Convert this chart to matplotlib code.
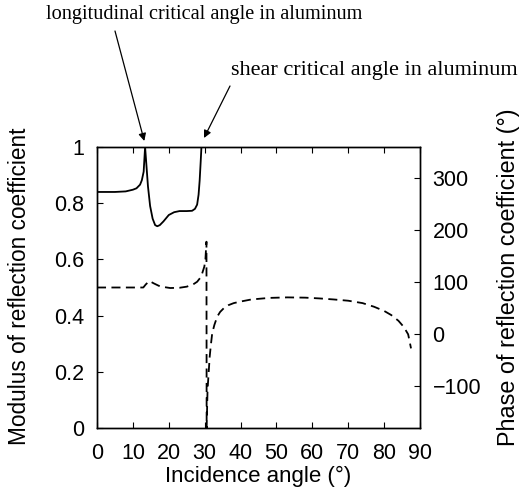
import matplotlib
matplotlib.use("Agg")
import matplotlib.pyplot as plt

# Modulus of reflection coefficient (solid)
theta_mod = [0, 5, 8, 10, 11, 12, 12.5, 13, 13.4, 13.8, 14.2, 14.8, 15.5, 16.2,
             16.8, 17.5, 18.5, 20, 21.5, 23, 25, 26.5, 27.3, 27.9, 28.3, 28.6,
             28.9, 29.1, 30, 40, 90]
modulus = [0.84, 0.84, 0.842, 0.848, 0.853, 0.866, 0.882, 0.912, 1.0, 0.93,
           0.86, 0.79, 0.745, 0.722, 0.718, 0.722, 0.735, 0.758, 0.768, 0.772,
           0.772, 0.773, 0.78, 0.795, 0.83, 0.88, 0.95, 1.0, 1.0, 1.0, 1.0]

# Phase of reflection coefficient in degrees (dashed)
theta_ph = [0, 5, 10, 12.9, 13.6, 14.6, 15.8, 17.6, 20.4, 23, 25, 26.8, 27.9,
            28.7, 29.3, 29.9, 30.2, 30.5, 30.55, 30.8, 31.1, 31.4, 31.7, 32.1,
            32.7, 33.5, 34.3, 35.3, 36.6, 38.1, 40, 43, 48, 53, 58, 62, 66, 70,
            74, 77.2, 80, 82, 84, 85.5, 86.7, 87.5]
phase = [90, 90, 90, 90, 96, 102.5, 98, 92, 89, 89.5, 91.6, 96, 101, 108,
         117, 130, 143, 178, -180, -107, -75, -43, -22, 2, 18, 34, 43, 50, 56,
         60, 63, 67, 70, 71, 70.5, 69, 67, 64.6, 60, 53, 45, 37, 26, 14, 0, -27]

x_ticks = [0, 10, 20, 30, 40, 50, 60, 70, 80, 90]
left_ticks = [0, 0.2, 0.4, 0.6, 0.8, 1]
left_tick_labels = ["0", "0.2", "0.4", "0.6", "0.8", "1"]
right_ticks = [-100, 0, 100, 200, 300]
right_tick_labels = ["\u2212100", "0", "100", "200", "300"]

plt.rcParams['font.family'] = ['Liberation Sans', 'DejaVu Sans']

fig = plt.figure(figsize=(5.2, 4.99), dpi=100)
ax = fig.add_axes([97 / 520, 1 - 428 / 499, (420 - 97) / 520, (428 - 147) / 499])
ax2 = ax.twinx()

ax.plot(theta_mod, modulus, color='black', lw=1.3, solid_joinstyle='round')
ax2.plot(theta_ph, phase, color='black', lw=1.3, dashes=(5, 3))

ax.set_xlim(0, 90)
ax.set_ylim(0, 1)
ax2.set_ylim(-180, 360)

ax.set_xticks(x_ticks)
ax.set_xticklabels([str(t) for t in x_ticks])
ax.set_yticks(left_ticks)
ax.set_yticklabels(left_tick_labels)
ax2.set_yticks(right_ticks)
ax2.set_yticklabels(right_tick_labels)

tfs = 15.5
ax.tick_params(axis='x', direction='in', top=True, length=4, width=0.8,
               labelsize=tfs, pad=11)
ax.tick_params(axis='y', direction='in', left=True, right=False, length=4,
               width=0.8, labelsize=tfs, pad=9)
ax2.tick_params(axis='y', direction='in', right=True, left=False, length=4,
                width=0.8, labelsize=tfs, pad=9)
for a in (ax, ax2):
    for s in a.spines.values():
        s.set_linewidth(1.0)

ax.set_xlabel("Incidence angle (\u00b0)", fontsize=16)
ax.xaxis.set_label_coords(0.5, -(476 - 428) / 281, transform=ax.transAxes)
ax.set_ylabel("Modulus of reflection coefficient", fontsize=16.3)
ax.yaxis.set_label_coords(-(97 - 20) / 323, 0.5 + (287.5 - 286.5) / 281)
ax2.set_ylabel("Phase of reflection coefficient (\u00b0)", fontsize=16.8)
ax2.yaxis.set_label_coords(1 + (508 - 420) / 323, 0.5 + (287.5 - 277.5) / 281)
ax.xaxis.label.set_va('center')
ax.yaxis.label.set_va('center')
ax2.yaxis.label.set_va('center')

serif = ['Liberation Serif', 'DejaVu Serif']
fig.text(204 / 520, 1 - 15 / 499, "longitudinal critical angle in aluminum",
         family=serif, fontsize=14.6, ha='center', va='center')
fig.text(374 / 520, 1 - 70 / 499, "shear critical angle in aluminum",
         family=serif, fontsize=16, ha='center', va='center')

ax.annotate("", xy=(144.3, 499 - 141), xycoords='figure pixels',
            xytext=(115, 499 - 31), textcoords='figure pixels',
            arrowprops=dict(arrowstyle='-|>', color='black', lw=0.9,
                            mutation_scale=11, shrinkA=0, shrinkB=0),
            annotation_clip=False)
ax.annotate("", xy=(204, 499 - 138), xycoords='figure pixels',
            xytext=(230, 499 - 86), textcoords='figure pixels',
            arrowprops=dict(arrowstyle='-|>', color='black', lw=0.9,
                            mutation_scale=11, shrinkA=0, shrinkB=0),
            annotation_clip=False)

fig.savefig("out.png", dpi=100)
